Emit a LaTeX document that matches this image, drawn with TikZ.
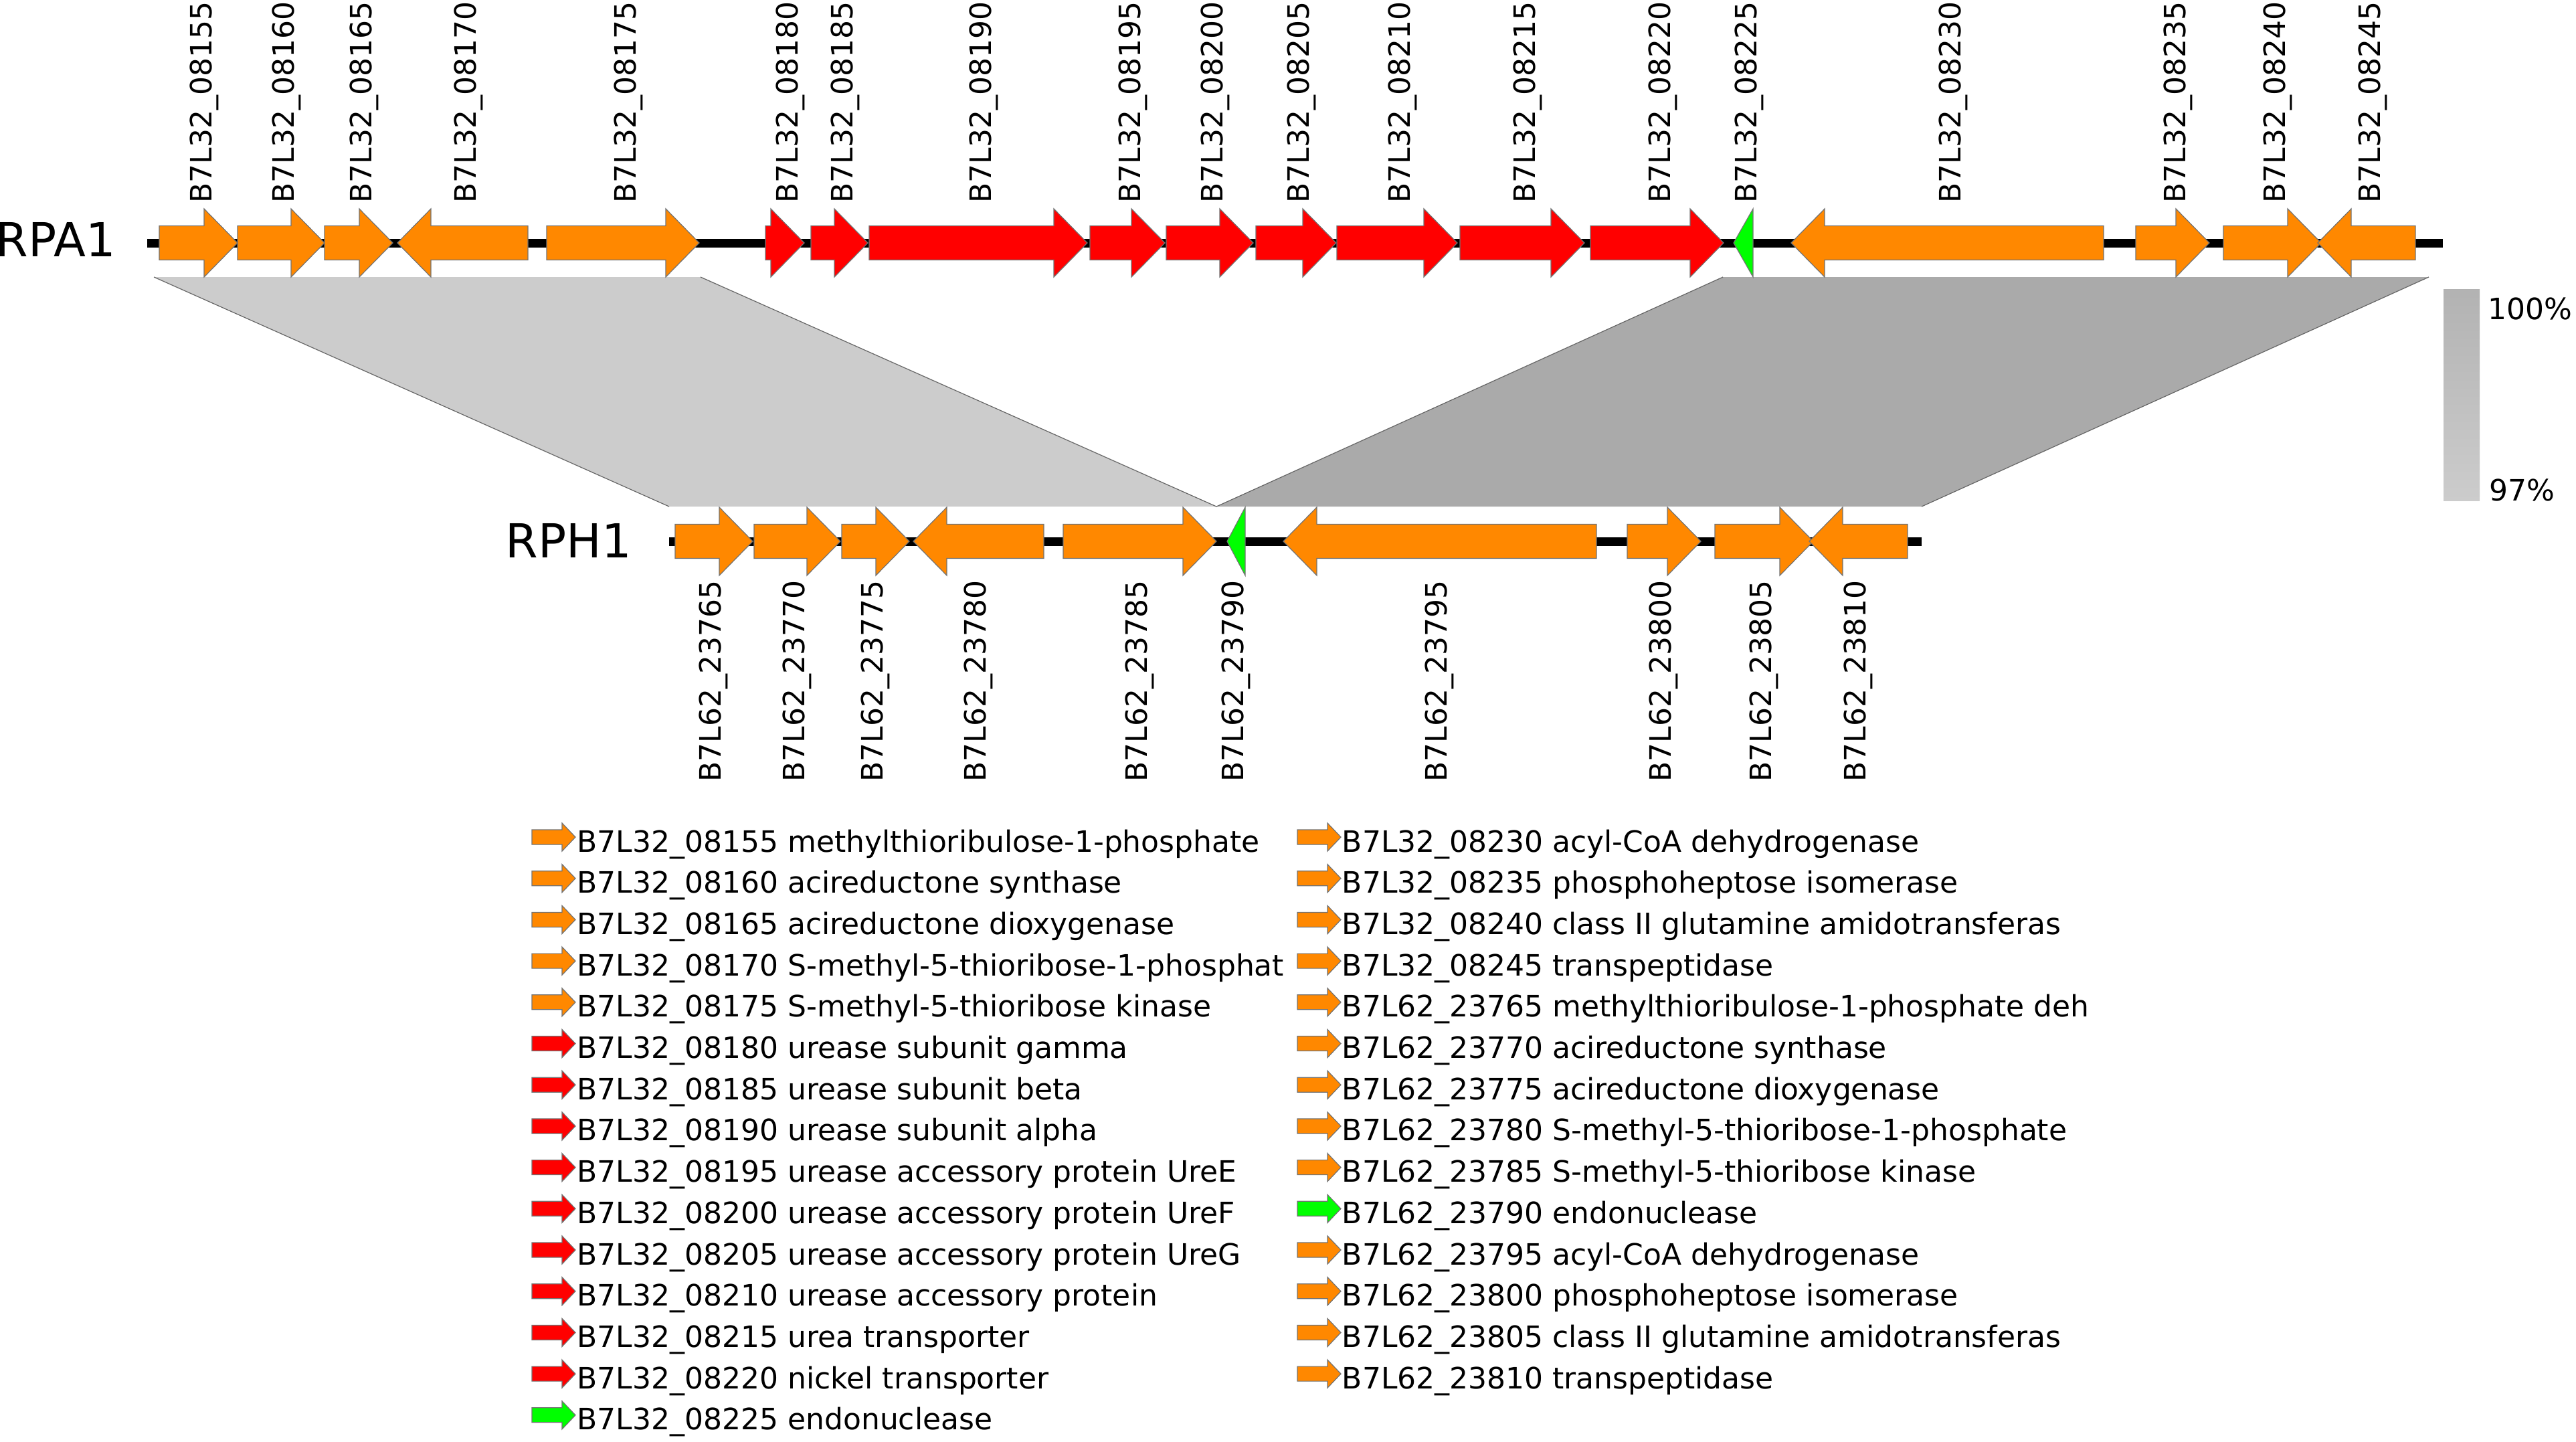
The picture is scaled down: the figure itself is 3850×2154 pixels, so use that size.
\documentclass[tikz,border=0pt]{standalone}
\usepackage{fontspec}
\setmainfont{DejaVu Sans}
\definecolor{org}{RGB}{255,136,0}
\definecolor{rd}{RGB}{255,0,0}
\definecolor{grn}{RGB}{0,255,0}
\definecolor{bandlight}{RGB}{204,204,204}
\definecolor{banddark}{RGB}{170,170,170}
\tikzset{
  genebody/.style={draw=black!55, line width=0.3pt},
  trackline/.style={line width=3.25pt, black},
  bandedge/.style={draw=black!60, line width=0.3pt},
  toplab/.style={rotate=90, anchor=mid west, inner sep=0pt, font=\fontsize{11pt}{13pt}\selectfont},
  seqlab/.style={anchor=base west, inner sep=0pt, font=\fontsize{17.5pt}{20pt}\selectfont},
  legtext/.style={anchor=base west, inner sep=0pt, font=\fontsize{11pt}{13pt}\selectfont},
}
% #1 start, #2 end, #3 dir (1 fwd / 0 rev), #4 colour, #5 y
\newcommand{\genearrow}[5]{%
  \pgfmathsetmacro{\hl}{min(50,#2-#1)}%
  \ifnum#3=1
    \pgfmathsetmacro{\hb}{#2-\hl}%
    \filldraw[genebody,fill=#4] (#1,#5-25.5) -- (\hb,#5-25.5) -- (\hb,#5-51) -- (#2,#5) -- (\hb,#5+51) -- (\hb,#5+25.5) -- (#1,#5+25.5) -- cycle;
  \else
    \pgfmathsetmacro{\hb}{#1+\hl}%
    \filldraw[genebody,fill=#4] (#2,#5-25.5) -- (\hb,#5-25.5) -- (\hb,#5-51) -- (#1,#5) -- (\hb,#5+51) -- (\hb,#5+25.5) -- (#2,#5+25.5) -- cycle;
  \fi}
% legend arrow: #1 x start, #2 y centre, #3 colour
\newcommand{\legarrow}[3]{%
  \filldraw[genebody,fill=#3] (#1,#2-11) -- (#1+45,#2-11) -- (#1+45,#2-21) -- (#1+65,#2) -- (#1+45,#2+21) -- (#1+45,#2+11) -- (#1,#2+11) -- cycle;}
\begin{document}
\begin{tikzpicture}[x=0.25pt,y=-0.25pt]
\useasboundingbox (0,0) rectangle (3850,2154);
% similarity bands
\fill[bandlight] (230,414) -- (1047,414) -- (1818,757) -- (1000,757) -- cycle;
\draw[bandedge] (230,414) -- (1000,757);
\draw[bandedge] (1047,414) -- (1818,757);
\fill[banddark] (2575,414) -- (3630,414) -- (2872,757) -- (1818,757) -- cycle;
\draw[bandedge] (2575,414) -- (1818,757);
\draw[bandedge] (3630,414) -- (2872,757);
% tracks
\draw[trackline] (220,363) -- (3651,363);
\draw[trackline] (1000,809) -- (2872,809);
\node[seqlab] (rpa) at (-7,383) {RPA1};
\node[seqlab] (rph) at (755,833) {RPH1};
% RPA1 genes
\foreach \a/\b/\d/\c/\lab in {238/355/1/org/08155, 355/485/1/org/08160, 485/587/1/org/08165,
  594/789/0/org/08170, 817/1045/1/org/08175, 1144/1202/1/rd/08180, 1212/1297/1/rd/08185,
  1299/1625/1/rd/08190, 1629/1741/1/rd/08195, 1743/1873/1/rd/08200, 1877/1997/1/rd/08205,
  1998/2178/1/rd/08210, 2182/2368/1/rd/08215, 2377/2576/1/rd/08220, 2591/2620/0/grn/08225,
  2677/3144/0/org/08230, 3192/3302/1/org/08235, 3323/3469/1/org/08240, 3464/3610/0/org/08245}{
  \genearrow{\a}{\b}{\d}{\c}{363}
  \node[toplab] (a\lab) at ({(\a+\b)/2+9},304) {B7L32\_\lab};
}
% RPH1 genes
\foreach \a/\b/\d/\c/\lab in {1009/1125/1/org/23765, 1127/1256/1/org/23770, 1258/1359/1/org/23775,
  1365/1560/0/org/23780, 1589/1818/1/org/23785, 1834/1861/0/grn/23790, 1918/2386/0/org/23795,
  2432/2542/1/org/23800, 2563/2710/1/org/23805, 2704/2851/0/org/23810}{
  \genearrow{\a}{\b}{\d}{\c}{809}
  \node[toplab] (b\lab) at ({(\a+\b)/2},1169) {B7L62\_\lab};
}
% scale bar
\shade[top color=black!30, bottom color=black!20] (3652,432) rectangle (3706,748);
\node[legtext] (s100) at (3718,477) {100\%};
\node[legtext] (s97) at (3720,748) {97\%};
% legend column 1
\foreach \c/\t [count=\i from 0] in {
  org/B7L32\_08155 methylthioribulose-1-phosphate,
  org/B7L32\_08160 acireductone synthase,
  org/B7L32\_08165 acireductone dioxygenase,
  org/B7L32\_08170 S-methyl-5-thioribose-1-phosphat,
  org/B7L32\_08175 S-methyl-5-thioribose kinase,
  rd/B7L32\_08180 urease subunit gamma,
  rd/B7L32\_08185 urease subunit beta,
  rd/B7L32\_08190 urease subunit alpha,
  rd/B7L32\_08195 urease accessory protein UreE,
  rd/B7L32\_08200 urease accessory protein UreF,
  rd/B7L32\_08205 urease accessory protein UreG,
  rd/B7L32\_08210 urease accessory protein,
  rd/B7L32\_08215 urea transporter,
  rd/B7L32\_08220 nickel transporter,
  grn/B7L32\_08225 endonuclease}{
  \pgfmathsetmacro{\yy}{1251+61.7*\i}
  \legarrow{795}{\yy}{\c}
  \node[legtext] (la\i) at (862,\yy+22) {\t};
}
% legend column 2
\foreach \c/\t [count=\i from 0] in {
  org/B7L32\_08230 acyl-CoA dehydrogenase,
  org/B7L32\_08235 phosphoheptose isomerase,
  org/B7L32\_08240 class II glutamine amidotransferas,
  org/B7L32\_08245 transpeptidase,
  org/B7L62\_23765 methylthioribulose-1-phosphate deh,
  org/B7L62\_23770 acireductone synthase,
  org/B7L62\_23775 acireductone dioxygenase,
  org/B7L62\_23780 S-methyl-5-thioribose-1-phosphate,
  org/B7L62\_23785 S-methyl-5-thioribose kinase,
  grn/B7L62\_23790 endonuclease,
  org/B7L62\_23795 acyl-CoA dehydrogenase,
  org/B7L62\_23800 phosphoheptose isomerase,
  org/B7L62\_23805 class II glutamine amidotransferas,
  org/B7L62\_23810 transpeptidase}{
  \pgfmathsetmacro{\yy}{1251+61.7*\i}
  \legarrow{1939}{\yy}{\c}
  \node[legtext] (lb\i) at (2005,\yy+22) {\t};
}
\end{tikzpicture}
\end{document}
